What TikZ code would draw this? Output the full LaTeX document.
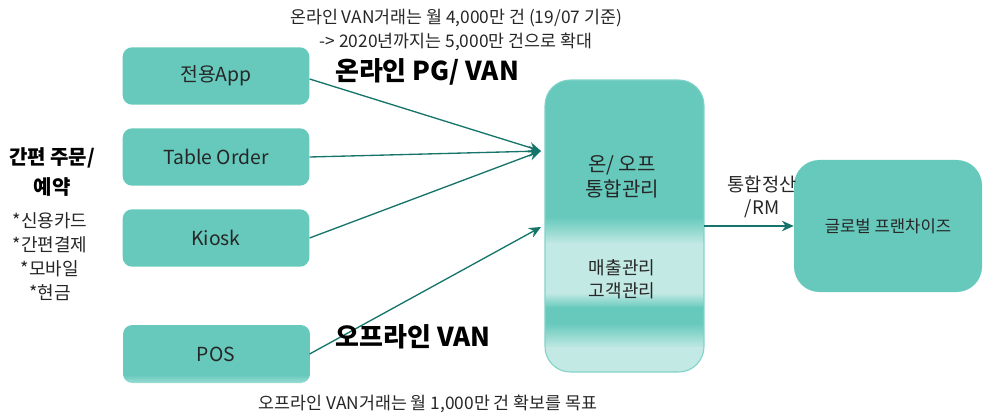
\documentclass[tikz,border=0pt]{standalone}
\usepackage{fontspec}
\setmainfont{Noto Sans CJK KR}
\usetikzlibrary{arrows.meta}
\definecolor{teal1}{HTML}{66C9BC}
\definecolor{light1}{HTML}{C2E9E3}
\definecolor{edge1}{HTML}{7FD3C8}
\definecolor{arr}{HTML}{16756A}
\begin{document}
\begin{tikzpicture}[x=0.75pt,y=-0.75pt,
  box/.style={fill=teal1,draw=none,rounded corners=7pt,font=\fontsize{14.5}{17}\selectfont,text=black!85},
  conn/.style={draw=arr,line width=1pt,-{Stealth[length=9pt,width=8pt,inset=3pt]}},
  txt/.style={font=\fontsize{13}{18}\selectfont,text=black!85,align=center},
  big/.style={font=\bfseries\fontsize{19.5}{22}\selectfont,text=black}]
\useasboundingbox (0,0) rectangle (988,417);
% small boxes
\node[box,minimum width=140pt,minimum height=43pt] (app) at (216,76) {전용App};
\node[box,minimum width=140pt,minimum height=43pt] (table) at (216,157) {Table Order};
\node[box,minimum width=140pt,minimum height=43pt] (kiosk) at (216,238) {Kiosk};
\begin{scope}
\clip[rounded corners=7pt] (123,325) rectangle (310,383);
\fill[teal1] (123,325) rectangle (310,376);
\shade[top color=teal1,bottom color=light1!60!teal1] (123,375) rectangle (310,383);
\end{scope}
\node[minimum width=140pt,minimum height=43pt,font=\fontsize{14.5}{17}\selectfont,text=black!85] (pos) at (216,354) {POS};
% middle big box
\begin{scope}
\clip[rounded corners=19pt] (545,80) rectangle (704,372);
\fill[teal1] (545,80) rectangle (704,218);
\shade[top color=teal1,bottom color=light1] (545,217) rectangle (704,244);
\fill[light1] (545,243) rectangle (704,294);
\shade[top color=light1,bottom color=teal1] (545,293) rectangle (704,308);
\fill[teal1] (545,307) rectangle (704,324);
\shade[top color=teal1,bottom color=light1] (545,323) rectangle (704,348);
\fill[light1] (545,347) rectangle (704,372);
\end{scope}
\draw[edge1,line width=0.8pt,rounded corners=19pt] (545,80) rectangle (704,372);
\node[minimum width=119pt,minimum height=219pt,inner sep=0pt] (mid) at (624.5,226) {};
\node[txt,font=\fontsize{15}{19}\selectfont] (mt) at (622,177) {온/ 오프\\통합관리};
\node[txt,font=\fontsize{13.5}{17}\selectfont] (mb) at (622,279) {매출관리\\고객관리};
\coordinate (tgt) at (541,151);
\coordinate (tgt2) at (541,227);
% global box
\node[box,rounded corners=19pt,minimum width=141pt,minimum height=99pt,font=\fontsize{12.5}{15}\selectfont] (glob) at (888,226) {글로벌 프랜차이즈};
% connectors
\draw[conn] (app.east) ++(0,3) coordinate (a1) (a1) -- (tgt);
\draw[conn] (table.east) -- (tgt);
\draw[conn] (kiosk.east) -- (tgt);
\draw[conn] (pos.east) -- (tgt2);
\draw[conn] (mid.east |- glob.west) -- (glob.west);
% texts
\node[txt] (top) at (456,30) {온라인 VAN거래는 월 4,000만 건 (19/07 기준)\\-> 2020년까지는 5,000만 건으로 확대};
\node[big] (on) at (427,72) {온라인 PG/ VAN};
\node[big] (off) at (413,337) {오프라인 VAN};
\node[txt] (bot) at (428,404) {오프라인 VAN거래는 월 1,000만 건 확보를 목표};
\node[txt,font=\bfseries\fontsize{15}{23}\selectfont,text=black] (left) at (52,172) {간편 주문/\\예약};
\node[txt,font=\fontsize{13.5}{18}\selectfont] (pay) at (50,257) {*신용카드\\*간편결제\\*모바일\\*현금};
\node[txt,font=\fontsize{14}{17}\selectfont] (settle) at (762,197) {통합정산\\/RM};
\end{tikzpicture}
\end{document}
